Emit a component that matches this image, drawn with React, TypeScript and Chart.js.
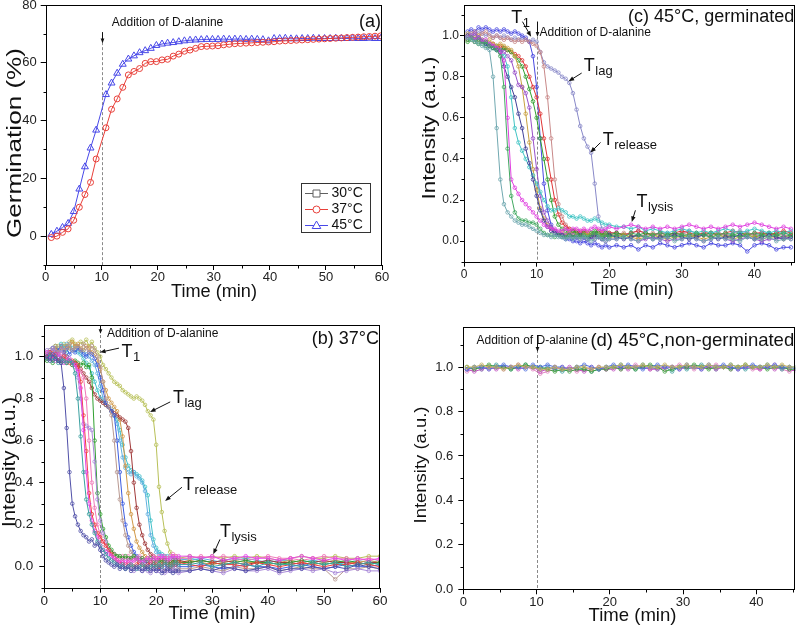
import React, { useEffect, useRef } from "react";
import { Chart, registerables } from "chart.js";

Chart.register(...registerables);

const FONT = "'Liberation Sans', Arial, Helvetica, sans-serif";
const ADD_TIME = 10; // addition of D-alanine (min)

/* ---------------- (a) germination ---------------- */
const TIME_A = [1, 2, 3, 4, 5, 6, 7, 8, 9, 10.75, 11.75, 12.75, 13.75, 14.75, 15.75, 16.75, 17.75, 18.75, 19.75,
  20.75, 21.75, 22.75, 23.75, 24.75, 25.75, 26.75, 27.75, 28.75, 29.75, 30.75, 31.75, 32.75, 33.75, 34.75, 35.75,
  36.75, 37.75, 38.75, 39.75, 40.75, 41.75, 42.75, 43.75, 44.75, 45.75, 46.75, 47.75, 48.75, 49.75, 50.75, 51.75,
  52.75, 53.75, 54.75, 55.75, 56.75, 57.75, 58.75, 59.75];
const GERM_30C: number[] = [];
const GERM_37C = [-0.5, 0.0, 1.3, 2.5, 5.5, 10.0, 14.4, 18.6, 26.7,
  37.5, 43.9, 47.5, 51.5, 55.8, 57.0, 58.0, 59.8, 60.4, 60.4,
  61.0, 61.2, 62.3, 63.0, 64.0, 64.4, 65.0, 65.6, 65.7, 65.8,
  65.9, 66.2, 66.4, 66.6, 66.7, 66.8, 66.9, 67.0, 67.1, 67.2,
  67.3, 67.5, 67.6, 67.7, 67.8, 67.9, 68.0, 68.1, 68.2, 68.3,
  68.4, 68.5, 68.6, 68.7, 68.8, 68.9, 69.0, 69.1, 69.2, 69.3];
const GERM_45C = [0.6, 1.7, 3.0, 4.4, 8.5, 16.3, 24.0, 30.5, 36.7,
  49.0, 53.0, 56.4, 59.5, 61.3, 62.4, 63.5, 64.2, 65.0, 66.0,
  66.5, 66.8, 67.0, 67.3, 67.6, 67.8, 67.9, 68.0, 68.1, 68.1,
  68.1, 68.2, 68.1, 68.2, 68.2, 68.1, 68.2, 68.1, 68.0, 67.6,
  68.4, 68.4, 68.5, 68.3, 68.3, 68.4, 68.4, 68.5, 68.4, 68.4,
  68.4, 68.5, 68.4, 68.4, 68.5, 68.4, 68.4, 68.5, 68.4, 68.4];
const LEGEND_A = ["30°C", "37°C", "45°C"];
const XTICK_A = [0, 10, 20, 30, 40, 50, 60];
const XMINOR_A = [5, 15, 25, 35, 45, 55];
const YTICK_A = [0, 20, 40, 60, 80];
const YMINOR_A = [-10, 10, 30, 50, 70];

/* ---------------- (b) 37°C ---------------- */
const TIME_B = [0.5, 1, 1.5, 2, 2.5, 3, 3.5, 4, 4.5, 5, 5.5, 6, 6.5, 7, 7.5, 8, 8.5, 9, 9.5, 10,
  10.5, 11, 11.5, 12, 12.5, 13, 13.5, 14, 14.5, 15, 15.5, 16, 16.5, 17, 17.5, 18, 18.5, 19, 19.5, 20,
  20.5, 21, 21.5, 22, 22.5, 23, 23.5, 24, 26, 28, 30, 32, 34, 36, 38, 40, 42, 44, 46, 48, 50, 52, 54, 56, 58, 60];
const B_NAVY = [1.00, 0.98, 1.01, 0.99, 0.98, 0.97, 0.85, 0.66, 0.45, 0.30,
  0.24, 0.20, 0.17, 0.15, 0.14, 0.12, 0.13, 0.10, 0.11, 0.08,
  0.05, 0.03, 0.02, 0.01, 0.00, 0.01, -0.01, 0.00, -0.01, 0.00,
  -0.02, -0.01, 0.00, -0.01, -0.02, -0.01, 0.00, -0.02, -0.01, -0.02,
  -0.01, -0.03, -0.02, -0.01, -0.02, -0.03, -0.02, -0.02,
  -0.02, -0.01, -0.02, 0.00, -0.01, -0.02, -0.01, 0.00, -0.02, -0.01, -0.01, 0.00, -0.01, 0.00, -0.01, 0.01, 0.00, -0.01];
const B_TEAL = [0.99, 1.01, 0.98, 1.00, 0.97, 0.99, 0.98, 0.97, 0.98, 0.97,
  0.92, 0.80, 0.62, 0.45, 0.32, 0.25, 0.20, 0.16, 0.12, 0.10,
  0.08, 0.06, 0.04, 0.03, 0.02, 0.01, 0.00, 0.01, -0.01, 0.00,
  0.01, 0.00, -0.01, 0.00, 0.01, 0.00, -0.01, 0.00, 0.01, 0.00,
  0.01, 0.00, 0.02, 0.01, 0.00, 0.01, 0.02, 0.01,
  0.01, 0.02, 0.00, 0.01, 0.02, 0.01, 0.00, 0.02, 0.01, 0.01, 0.00, 0.02, 0.01, 0.02, 0.00, 0.01, 0.02, 0.01];
const B_MAGENTA = [1.02, 0.99, 1.00, 0.98, 1.01, 0.99, 0.97, 0.98, 0.99, 0.97,
  0.96, 0.93, 0.85, 0.65, 0.45, 0.30, 0.22, 0.17, 0.14, 0.10,
  0.08, 0.07, 0.06, 0.05, 0.04, 0.03, 0.02, 0.03, 0.02, 0.03,
  0.02, 0.03, 0.04, 0.03, 0.02, 0.03, 0.04, 0.03, 0.04, 0.03,
  0.04, 0.05, 0.04, 0.03, 0.04, 0.05, 0.04, 0.05,
  0.05, 0.04, 0.05, 0.03, 0.04, 0.05, 0.04, 0.04, 0.03, 0.04, 0.05, 0.04, 0.03, 0.04, 0.03, 0.04, 0.03, 0.04];
const B_RED = [1.00, 1.02, 0.99, 1.01, 0.98, 0.99, 1.00, 0.98, 0.97, 0.98,
  0.97, 0.96, 0.88, 0.72, 0.55, 0.35, 0.25, 0.20, 0.16, 0.14,
  0.12, 0.10, 0.08, 0.06, 0.04, 0.03, 0.02, 0.02, 0.01, 0.02,
  0.01, 0.00, 0.01, 0.02, 0.01, 0.00, 0.01, 0.02, 0.01, 0.01,
  0.00, 0.01, 0.02, 0.01, 0.00, 0.01, 0.01, 0.02,
  0.01, 0.00, 0.02, 0.01, 0.01, 0.00, 0.02, 0.01, 0.00, 0.01, 0.02, 0.01, 0.00, 0.01, 0.01, 0.02, 0.01, 0.00];
const B_LILAC = [1.03, 1.01, 1.04, 1.02, 1.00, 1.03, 1.01, 0.99, 0.98, 0.97,
  0.96, 0.90, 0.80, 0.68, 0.67, 0.66, 0.65, 0.50, 0.32, 0.22,
  0.16, 0.12, 0.08, 0.05, 0.03, 0.02, 0.01, 0.00, -0.01, 0.00,
  -0.01, -0.02, -0.01, 0.00, -0.02, -0.01, -0.02, -0.03, -0.01, -0.02,
  -0.02, -0.01, -0.03, -0.02, -0.02, -0.01, -0.02, -0.03,
  -0.02, -0.01, -0.02, -0.03, -0.01, -0.02, -0.02, -0.01, -0.03, -0.02, -0.01, -0.02, -0.01, -0.03, -0.02, -0.01, -0.02, -0.02];
const B_GREEN = [0.98, 1.00, 0.97, 0.99, 0.98, 0.97, 0.98, 0.97, 0.98, 0.96,
  0.98, 0.97, 0.96, 0.97, 0.95, 0.96, 0.90, 0.60, 0.35, 0.25,
  0.18, 0.14, 0.10, 0.08, 0.06, 0.05, 0.05, 0.04, 0.05, 0.04,
  0.04, 0.05, 0.04, 0.03, 0.04, 0.03, 0.03, 0.04, 0.03, 0.02,
  0.03, 0.02, 0.03, 0.02, 0.01, 0.02, 0.03, 0.02,
  0.02, 0.03, 0.02, 0.01, 0.02, 0.03, 0.02, 0.02, 0.01, 0.02, 0.03, 0.02, 0.01, 0.02, 0.03, 0.02, 0.01, 0.02];
const B_PINK = [1.00, 0.99, 1.02, 1.00, 0.98, 1.01, 0.99, 0.97, 0.98, 0.96,
  0.95, 0.94, 0.93, 0.90, 0.80, 0.60, 0.40, 0.28, 0.20, 0.15,
  0.12, 0.10, 0.08, 0.07, 0.06, 0.05, 0.04, 0.05, 0.04, 0.05,
  0.04, 0.03, 0.04, 0.05, 0.04, 0.03, 0.04, 0.04, 0.05, 0.04,
  0.05, 0.04, 0.05, 0.04, 0.05, 0.06, 0.05, 0.04,
  0.04, 0.05, 0.04, 0.05, 0.04, 0.03, 0.04, 0.05, 0.04, 0.04, 0.03, 0.04, 0.05, 0.04, 0.04, 0.03, 0.04, 0.03];
const B_TAUPE = [1.01, 1.03, 1.00, 1.04, 1.02, 1.05, 1.03, 1.04, 1.06, 1.03,
  1.04, 1.05, 1.03, 1.06, 1.04, 1.02, 1.05, 1.03, 1.00, 0.95,
  0.88, 0.80, 0.76, 0.72, 0.60, 0.45, 0.32, 0.22, 0.15, 0.10,
  0.07, 0.05, 0.03, 0.02, 0.01, 0.00, -0.01, 0.00, -0.01, 0.00,
  -0.01, 0.00, -0.02, -0.01, 0.00, -0.01, -0.02, -0.01,
  -0.01, 0.00, -0.01, -0.02, 0.00, -0.01, -0.01, 0.00, -0.02, -0.01, 0.00, -0.01, -0.01, -0.06, -0.01, -0.01, 0.00, -0.01];
const B_BLUE = [1.00, 1.02, 1.04, 1.01, 1.03, 1.05, 1.02, 1.04, 1.01, 1.03,
  1.02, 1.04, 1.03, 1.01, 1.00, 1.02, 1.01, 0.99, 0.96, 0.90,
  0.84, 0.78, 0.76, 0.74, 0.72, 0.60, 0.45, 0.30, 0.20, 0.14,
  0.10, 0.07, 0.05, 0.04, 0.03, 0.02, 0.02, 0.01, 0.01, 0.00,
  0.01, 0.00, 0.01, 0.00, -0.01, 0.00, 0.01, 0.00,
  0.00, 0.01, 0.00, -0.01, 0.00, 0.01, 0.00, 0.00, -0.01, 0.00, 0.01, 0.00, -0.01, 0.00, 0.01, 0.00, 0.00, 0.01];
const B_BROWN = [0.99, 1.02, 1.00, 1.03, 1.01, 0.99, 1.02, 1.00, 0.98, 0.97,
  0.97, 0.95, 0.94, 0.92, 0.90, 0.88, 0.85, 0.82, 0.80, 0.79,
  0.78, 0.77, 0.76, 0.74, 0.73, 0.72, 0.71, 0.70, 0.69, 0.66,
  0.55, 0.40, 0.28, 0.20, 0.15, 0.11, 0.08, 0.06, 0.05, 0.04,
  0.04, 0.03, 0.04, 0.03, 0.02, 0.03, 0.02, 0.03,
  0.02, 0.03, 0.02, 0.03, 0.02, 0.01, 0.02, 0.03, 0.02, 0.02, 0.01, 0.02, 0.03, 0.02, 0.02, 0.01, 0.02, 0.02];
const B_ORANGE = [1.02, 1.00, 1.03, 1.05, 1.02, 1.04, 1.03, 1.05, 1.04, 1.07,
  1.05, 1.06, 1.04, 1.03, 1.05, 1.04, 1.02, 1.01, 0.98, 0.94,
  0.88, 0.84, 0.80, 0.78, 0.76, 0.74, 0.70, 0.62, 0.48, 0.35,
  0.25, 0.18, 0.12, 0.09, 0.07, 0.05, 0.04, 0.03, 0.03, 0.02,
  0.03, 0.02, 0.03, 0.02, 0.01, 0.02, 0.03, 0.02,
  0.03, 0.02, 0.01, 0.02, 0.03, 0.02, 0.02, 0.01, 0.02, 0.03, 0.02, 0.01, 0.02, 0.03, 0.02, 0.02, 0.03, 0.02];
const B_SKY = [1.00, 1.03, 1.01, 1.04, 1.02, 1.05, 1.03, 1.06, 1.04, 1.03,
  1.05, 1.04, 1.02, 1.03, 1.01, 1.00, 0.98, 0.96, 0.92, 0.86,
  0.80, 0.78, 0.76, 0.75, 0.72, 0.68, 0.60, 0.52, 0.47, 0.45,
  0.44, 0.45, 0.43, 0.42, 0.40, 0.36, 0.25, 0.15, 0.10, 0.07,
  0.06, 0.05, 0.05, 0.04, 0.05, 0.04, 0.03, 0.04,
  0.03, 0.04, 0.03, 0.02, 0.03, 0.04, 0.03, 0.02, 0.03, 0.03, 0.02, 0.03, 0.02, 0.03, 0.02, 0.03, 0.02, 0.03];
const B_CYAN = [1.01, 0.99, 1.02, 1.05, 1.03, 1.06, 1.04, 1.02, 1.05, 1.04,
  1.03, 1.02, 1.01, 0.99, 0.97, 0.95, 0.92, 0.88, 0.84, 0.80,
  0.79, 0.77, 0.76, 0.74, 0.72, 0.70, 0.65, 0.58, 0.52, 0.48,
  0.46, 0.45, 0.44, 0.43, 0.41, 0.38, 0.34, 0.22, 0.13, 0.09,
  0.07, 0.06, 0.05, 0.05, 0.04, 0.05, 0.04, 0.03,
  0.04, 0.03, 0.02, 0.03, 0.04, 0.03, 0.02, 0.03, 0.02, 0.01, 0.02, 0.03, 0.02, 0.01, 0.02, 0.02, 0.01, 0.02];
const B_OLIVE = [1.00, 1.02, 1.04, 1.03, 1.05, 1.04, 1.06, 1.05, 1.07, 1.08,
  1.06, 1.05, 1.07, 1.06, 1.08, 1.05, 1.07, 1.04, 1.02, 1.00,
  0.96, 0.94, 0.92, 0.90, 0.88, 0.87, 0.86, 0.84, 0.83, 0.82,
  0.81, 0.80, 0.81, 0.80, 0.79, 0.77, 0.74, 0.72, 0.70, 0.58,
  0.38, 0.26, 0.17, 0.11, 0.07, 0.05, 0.05, 0.04,
  0.05, 0.04, 0.05, 0.04, 0.05, 0.04, 0.05, 0.04, 0.03, 0.04, 0.05, 0.04, 0.04, 0.05, 0.04, 0.04, 0.05, 0.05];
const TRACES_B = [B_NAVY, B_TEAL, B_MAGENTA, B_RED, B_LILAC, B_GREEN, B_PINK, B_TAUPE, B_BLUE, B_BROWN, B_ORANGE, B_SKY, B_CYAN, B_OLIVE];
const COLORS_B = ["#5050a8", "#3aa0a0", "#e848e8", "#f03c3c", "#a888d8", "#30a030", "#f078b8", "#b89890", "#3c5ce0", "#a03838", "#d09848", "#60b0e0", "#40c0c8", "#b8c058"];
const XTICK_B = [0, 10, 20, 30, 40, 50, 60];
const XMINOR_B = [5, 15, 25, 35, 45, 55];
const YTICK_I = [0, 0.2, 0.4, 0.6, 0.8, 1.0];
const YMINOR_I = [-0.1, 0.1, 0.3, 0.5, 0.7, 0.9, 1.1];

/* ---------------- (c) 45°C germinated ---------------- */
const TIME_C = [0.5, 1, 1.5, 2, 2.5, 3, 3.5, 4, 4.5, 5, 5.5, 6, 6.5, 7, 7.5, 8, 8.5, 9, 9.5, 10,
  10.5, 11, 11.5, 12, 12.5, 13, 13.5, 14, 14.5, 15, 15.5, 16, 16.5, 17, 17.5, 18, 18.5, 19, 19.5, 20,
  21, 22, 23, 24, 25, 26, 27, 28, 29, 30, 31, 32, 33, 34, 35, 36, 37, 38, 39, 40, 41, 42, 43, 44, 45];
const C_SLATE = [1.00, 1.01, 1.00, 1.02, 1.01, 1.00, 1.01, 0.99, 1.00, 0.99,
  1.00, 0.99, 0.98, 0.99, 0.98, 0.99, 0.98, 0.97, 0.98, 0.97,
  0.92, 0.87, 0.85, 0.84, 0.83, 0.82, 0.80, 0.79, 0.77, 0.72,
  0.64, 0.56, 0.50, 0.46, 0.43, 0.28, 0.12, 0.06, 0.05, 0.04,
  0.04, 0.03, 0.04, 0.05, 0.04, 0.03, 0.04, 0.04, 0.03, 0.04, 0.05, 0.04, 0.03, 0.04, 0.04, 0.03, 0.04, 0.05, 0.04, 0.03, 0.04, 0.04, 0.03, 0.04, 0.03];
const C_BLUE = [1.02, 1.03, 1.02, 1.04, 1.03, 1.04, 1.03, 1.02, 1.03, 1.02,
  1.03, 1.02, 1.01, 1.02, 1.01, 1.00, 0.99, 0.97, 0.90, 0.75,
  0.50, 0.28, 0.15, 0.08, 0.05, 0.03, 0.02, 0.01, 0.01, 0.00,
  0.00, -0.01, 0.00, -0.01, -0.02, -0.01, -0.02, -0.03, -0.02, -0.03,
  -0.02, -0.03, -0.02, -0.04, -0.02, -0.03, -0.01, -0.02, -0.03, -0.02, -0.01, -0.02, -0.03, -0.01, -0.02, -0.02, -0.01, -0.02, -0.05, -0.02, -0.01, -0.02, -0.04, -0.03, -0.03];
const C_GRAYTEAL = [0.99, 0.98, 0.97, 0.96, 0.95, 0.94, 0.93, 0.80, 0.55, 0.30,
  0.18, 0.14, 0.12, 0.10, 0.09, 0.08, 0.08, 0.07, 0.06, 0.05,
  0.04, 0.03, 0.03, 0.02, 0.03, 0.02, 0.02, 0.01, 0.02, 0.01,
  0.02, 0.01, 0.02, 0.01, 0.00, 0.01, 0.02, 0.01, 0.00, 0.01,
  0.01, 0.02, 0.01, 0.00, 0.02, 0.01, 0.01, 0.02, 0.00, 0.01, 0.02, 0.01, 0.00, 0.01, 0.02, 0.01, 0.01, 0.00, 0.02, 0.01, 0.01, 0.02, 0.00, 0.01, 0.01];
const C_GREEN = [0.98, 0.99, 0.97, 0.98, 0.96, 0.97, 0.95, 0.94, 0.93, 0.90,
  0.75, 0.45, 0.22, 0.14, 0.11, 0.10, 0.10, 0.09, 0.09, 0.08,
  0.06, 0.04, 0.03, 0.03, 0.02, 0.03, 0.02, 0.02, 0.03, 0.02,
  0.03, 0.02, 0.03, 0.02, 0.03, 0.04, 0.03, 0.02, 0.03, 0.02,
  0.03, 0.02, 0.04, 0.03, 0.02, 0.03, 0.04, 0.03, 0.02, 0.03, 0.03, 0.04, 0.03, 0.02, 0.03, 0.04, 0.03, 0.02, 0.03, 0.04, 0.03, 0.02, 0.03, 0.04, 0.03];
const C_MAGENTA = [0.99, 1.00, 0.98, 0.99, 0.97, 0.98, 0.96, 0.95, 0.94, 0.92,
  0.88, 0.60, 0.30, 0.26, 0.23, 0.20, 0.18, 0.16, 0.14, 0.12,
  0.10, 0.08, 0.07, 0.06, 0.06, 0.05, 0.05, 0.06, 0.05, 0.06,
  0.06, 0.05, 0.06, 0.05, 0.06, 0.07, 0.06, 0.05, 0.06, 0.07,
  0.06, 0.07, 0.08, 0.07, 0.06, 0.07, 0.06, 0.07, 0.06, 0.07, 0.08, 0.07, 0.06, 0.07, 0.06, 0.07, 0.08, 0.07, 0.08, 0.09, 0.08, 0.07, 0.06, 0.07, 0.06];
const C_NAVY = [1.00, 0.99, 0.98, 0.99, 0.97, 0.96, 0.95, 0.94, 0.93, 0.92,
  0.85, 0.80, 0.75, 0.70, 0.62, 0.55, 0.45, 0.38, 0.30, 0.22,
  0.15, 0.10, 0.07, 0.05, 0.04, 0.03, 0.03, 0.02, 0.03, 0.02,
  0.02, 0.03, 0.02, 0.01, 0.02, 0.03, 0.02, 0.01, 0.02, 0.03,
  0.02, 0.01, 0.02, 0.03, 0.02, 0.01, 0.02, 0.02, 0.03, 0.02, 0.01, 0.02, 0.03, 0.02, 0.01, 0.02, 0.02, 0.03, 0.02, 0.01, 0.02, 0.03, 0.02, 0.01, 0.02];
const C_RED = [0.98, 0.99, 0.97, 0.98, 0.97, 0.96, 0.95, 0.96, 0.94, 0.95,
  0.94, 0.93, 0.92, 0.91, 0.90, 0.88, 0.85, 0.80, 0.75, 0.70,
  0.62, 0.50, 0.40, 0.30, 0.20, 0.13, 0.09, 0.07, 0.06, 0.05,
  0.05, 0.04, 0.05, 0.04, 0.03, 0.04, 0.05, 0.04, 0.03, 0.04,
  0.04, 0.03, 0.04, 0.05, 0.04, 0.03, 0.04, 0.03, 0.04, 0.05, 0.04, 0.03, 0.04, 0.04, 0.03, 0.04, 0.05, 0.04, 0.03, 0.04, 0.04, 0.03, 0.04, 0.05, 0.04];
const C_VIOLET = [0.99, 1.00, 1.01, 0.99, 0.98, 0.97, 0.96, 0.95, 0.94, 0.93,
  0.92, 0.90, 0.88, 0.82, 0.76, 0.75, 0.72, 0.65, 0.50, 0.35,
  0.22, 0.14, 0.10, 0.07, 0.05, 0.04, 0.03, 0.03, 0.02, 0.03,
  0.02, 0.01, 0.02, 0.01, 0.02, 0.01, 0.02, 0.01, 0.00, 0.01,
  0.01, 0.02, 0.01, 0.00, 0.01, 0.02, 0.01, 0.00, 0.01, 0.01, 0.02, 0.01, 0.00, 0.01, 0.02, 0.01, 0.00, 0.01, 0.02, 0.01, 0.00, 0.01, 0.01, 0.02, 0.01];
const C_GREEN2 = [0.97, 0.98, 0.97, 0.96, 0.97, 0.95, 0.96, 0.94, 0.95, 0.93,
  0.94, 0.93, 0.92, 0.90, 0.88, 0.85, 0.80, 0.74, 0.68, 0.60,
  0.50, 0.40, 0.30, 0.20, 0.12, 0.08, 0.06, 0.05, 0.04, 0.05,
  0.04, 0.03, 0.04, 0.03, 0.04, 0.05, 0.04, 0.03, 0.04, 0.03,
  0.04, 0.03, 0.02, 0.03, 0.04, 0.03, 0.02, 0.03, 0.04, 0.03, 0.02, 0.03, 0.03, 0.04, 0.03, 0.02, 0.03, 0.04, 0.03, 0.02, 0.03, 0.04, 0.03, 0.02, 0.03];
const C_OCHRE = [1.01, 1.00, 0.99, 1.00, 0.98, 0.97, 0.98, 0.96, 0.95, 0.96,
  0.95, 0.94, 0.93, 0.90, 0.85, 0.75, 0.62, 0.48, 0.35, 0.25,
  0.16, 0.11, 0.08, 0.06, 0.05, 0.04, 0.04, 0.03, 0.04, 0.03,
  0.03, 0.02, 0.03, 0.04, 0.03, 0.02, 0.03, 0.02, 0.03, 0.02,
  0.02, 0.03, 0.02, 0.01, 0.02, 0.03, 0.02, 0.01, 0.02, 0.02, 0.03, 0.02, 0.01, 0.02, 0.03, 0.02, 0.01, 0.02, 0.03, 0.02, 0.01, 0.02, 0.02, 0.01, 0.02];
const C_CYAN = [0.99, 1.00, 0.98, 0.99, 0.97, 0.96, 0.95, 0.94, 0.93, 0.92,
  0.90, 0.85, 0.70, 0.55, 0.48, 0.44, 0.40, 0.36, 0.32, 0.28,
  0.24, 0.20, 0.17, 0.15, 0.15, 0.16, 0.15, 0.14, 0.12, 0.12,
  0.11, 0.12, 0.11, 0.10, 0.10, 0.11, 0.10, 0.09, 0.08, 0.08,
  0.07, 0.07, 0.06, 0.07, 0.05, 0.06, 0.05, 0.04, 0.05, 0.06, 0.05, 0.04, 0.05, 0.04, 0.05, 0.06, 0.05, 0.04, 0.05, 0.06, 0.05, 0.04, 0.05, 0.04, 0.05];
const C_ROSE = [1.00, 1.01, 1.02, 1.00, 1.01, 1.02, 1.00, 0.99, 1.00, 0.99,
  0.98, 0.99, 0.98, 0.97, 0.98, 0.97, 0.98, 0.97, 0.96, 0.95,
  0.92, 0.85, 0.70, 0.50, 0.30, 0.18, 0.12, 0.08, 0.06, 0.05,
  0.04, 0.05, 0.04, 0.03, 0.04, 0.03, 0.02, 0.03, 0.04, 0.03,
  0.03, 0.04, 0.03, 0.02, 0.03, 0.04, 0.03, 0.02, 0.03, 0.04, 0.03, 0.02, 0.03, 0.03, 0.04, 0.03, 0.02, 0.03, 0.04, 0.03, 0.02, 0.03, 0.04, 0.03, 0.02];
const TRACES_C = [C_GRAYTEAL, C_GREEN, C_MAGENTA, C_NAVY, C_CYAN, C_VIOLET, C_OCHRE, C_GREEN2, C_RED, C_ROSE, C_BLUE, C_SLATE];
const COLORS_C = ["#70a8b0", "#40a860", "#e040e0", "#404098", "#40c4c4", "#9850c8", "#c8a040", "#30a030", "#e03434", "#c88888", "#4848e0", "#8888c8"];
const XTICK_C = [0, 10, 20, 30, 40];
const XMINOR_C = [5, 15, 25, 35, 45];

/* ---------------- (d) 45°C non-germinated ---------------- */
const TIME_D = [0.5, 1.5, 2.5, 3.5, 4.5, 5.5, 6.5, 7.5, 8.5, 9.5, 10.5, 11.5, 12.5, 13.5, 14.5, 15.5, 16.5, 17.5, 18.5, 19.5,
  20.5, 21.5, 22.5, 23.5, 24.5, 25.5, 26.5, 27.5, 28.5, 29.5, 30.5, 31.5, 32.5, 33.5, 34.5, 35.5, 36.5, 37.5, 38.5, 39.5,
  40.5, 41.5, 42.5, 43.5, 44.5, 45.5];
const D_TEAL = [0.99, 1.00, 0.99, 1.00, 1.01, 1.00, 0.99, 1.00, 1.01, 1.00,
  0.99, 1.00, 0.99, 0.98, 0.99, 1.00, 0.99, 0.98, 0.99, 1.00,
  1.00, 1.01, 1.00, 0.99, 1.01, 1.00, 0.99, 1.00, 0.98, 1.00,
  0.99, 1.00, 1.01, 1.00, 0.99, 1.00, 1.01, 1.00, 0.99, 1.00,
  1.00, 1.01, 1.00, 0.99, 1.00, 1.00];
const D_PINK = [0.98, 0.99, 1.00, 0.99, 1.00, 0.99, 1.00, 1.01, 1.00, 0.99,
  0.97, 0.98, 0.99, 1.00, 0.99, 0.98, 0.99, 1.00, 0.99, 0.99,
  1.00, 0.99, 1.00, 1.01, 1.00, 0.99, 1.00, 0.99, 1.00, 1.01,
  1.00, 0.99, 1.00, 1.00, 1.01, 1.00, 0.99, 1.00, 1.00, 0.99,
  0.99, 1.00, 1.01, 0.99, 0.98, 0.99];
const D_GREEN = [1.00, 0.99, 1.00, 1.01, 1.00, 1.00, 0.99, 1.00, 1.01, 1.00,
  1.00, 0.99, 0.98, 0.99, 0.98, 0.99, 0.99, 0.98, 0.99, 0.99,
  1.00, 0.99, 1.00, 0.99, 1.00, 1.01, 1.00, 0.98, 0.99, 1.00,
  1.00, 1.01, 1.00, 0.99, 1.00, 1.00, 0.99, 1.00, 1.01, 1.00,
  1.00, 0.99, 1.00, 1.00, 0.99, 0.99];
const D_BLUE = [0.99, 1.00, 1.00, 0.99, 1.00, 1.01, 1.00, 1.00, 0.99, 1.01,
  1.00, 1.01, 1.00, 1.00, 0.99, 1.00, 1.01, 1.00, 0.99, 1.00,
  1.01, 1.00, 1.01, 1.00, 0.99, 1.00, 1.01, 1.00, 1.00, 0.99,
  1.01, 1.00, 0.99, 1.01, 1.00, 1.01, 1.00, 0.99, 1.00, 1.01,
  1.00, 1.00, 1.01, 1.00, 1.00, 0.99];
const D_MAGENTA = [0.99, 0.98, 0.99, 1.00, 0.99, 1.00, 1.00, 0.99, 1.00, 1.00,
  0.98, 0.99, 1.00, 0.99, 1.00, 0.99, 0.98, 0.99, 1.00, 0.99,
  0.99, 1.00, 0.99, 1.00, 1.00, 0.99, 0.99, 1.00, 1.00, 0.99,
  1.00, 1.00, 0.99, 1.00, 0.99, 1.00, 1.00, 0.99, 1.00, 1.00,
  0.99, 1.00, 0.99, 1.00, 0.99, 0.98];
const D_OLIVE = [1.00, 1.00, 1.01, 1.00, 1.00, 0.99, 1.00, 1.01, 1.00, 1.00,
  0.99, 0.99, 1.00, 0.99, 0.99, 1.00, 1.00, 0.99, 1.00, 1.00,
  1.00, 1.01, 1.00, 1.00, 1.01, 1.00, 1.00, 1.01, 1.00, 1.00,
  1.01, 1.00, 1.00, 1.01, 1.00, 1.00, 1.01, 1.00, 1.01, 1.00,
  1.00, 1.01, 1.00, 1.01, 1.00, 1.00];
const TRACES_D = [D_OLIVE, D_BLUE, D_GREEN, D_MAGENTA, D_TEAL, D_PINK];
const COLORS_D = ["#c0b060", "#5070e0", "#40a040", "#c050c0", "#40a0a0", "#e080c0"];
const XTICK_D = [0, 10, 20, 30, 40];
const XMINOR_D = [5, 15, 25, 35, 45];
const YMINOR_D = [0.1, 0.3, 0.5, 0.7, 0.9, 1.1];

/* ---------------- helpers ---------------- */
function traceSets(times: number[], traces: number[][], colors: string[]) {
  return traces.map((vals, i) => ({
    data: times.map((t, j) => ({ x: t, y: vals[j] })),
    borderColor: colors[i],
    backgroundColor: "rgba(0,0,0,0)",
    borderWidth: 1,
    pointStyle: "circle",
    pointRadius: 1.8,
    pointBorderWidth: 0.8,
    pointBorderColor: colors[i],
    pointBackgroundColor: "rgba(0,0,0,0)",
    tension: 0,
    fill: false,
  }));
}

function drawArrow(ctx: CanvasRenderingContext2D, x1: number, y1: number, x2: number, y2: number, head = 6) {
  const ang = Math.atan2(y2 - y1, x2 - x1);
  ctx.save();
  ctx.setLineDash([]);
  ctx.strokeStyle = "#111";
  ctx.fillStyle = "#111";
  ctx.lineWidth = 1;
  ctx.beginPath();
  ctx.moveTo(x1, y1);
  ctx.lineTo(x2 - Math.cos(ang) * head * 0.7, y2 - Math.sin(ang) * head * 0.7);
  ctx.stroke();
  ctx.beginPath();
  ctx.moveTo(x2, y2);
  ctx.lineTo(x2 - head * Math.cos(ang - 0.38), y2 - head * Math.sin(ang - 0.38));
  ctx.lineTo(x2 - head * Math.cos(ang + 0.38), y2 - head * Math.sin(ang + 0.38));
  ctx.closePath();
  ctx.fill();
  ctx.restore();
}

function drawText(ctx: CanvasRenderingContext2D, text: string, x: number, y: number, size: number,
  align: CanvasTextAlign = "left", rot = 0, len = 0) {
  ctx.save();
  ctx.fillStyle = "#111";
  ctx.font = `${size}px ${FONT}`;
  ctx.textAlign = align;
  ctx.textBaseline = "middle";
  ctx.translate(x, y);
  if (rot) ctx.rotate(rot);
  if (len) {
    const w = ctx.measureText(text).width;
    if (w > 0) ctx.scale(len / w, 1);
  }
  ctx.fillText(text, 0, 0);
  ctx.restore();
}

function drawTLabel(ctx: CanvasRenderingContext2D, x: number, yc: number, sub: string) {
  ctx.save();
  ctx.fillStyle = "#111";
  ctx.textAlign = "left";
  ctx.textBaseline = "alphabetic";
  ctx.font = `18px ${FONT}`;
  const base = yc + 6.5;
  ctx.fillText("T", x, base);
  const w = ctx.measureText("T").width;
  ctx.font = `13px ${FONT}`;
  ctx.fillText(sub, x + w + 0.5, base + 4);
  ctx.restore();
}

type TLab = { sub: string; tx: number; ty: number; a: [number, number, number, number] };
type Title = { text: string; x: number; y: number; size: number; len: number };

interface PanelSpec {
  left: number; top: number; w: number; h: number;
  area: { l: number; t: number; r: number; b: number };
  xMin: number; xMax: number; xTicks: number[]; xMinor: number[]; xTickLen: number; xPad: number;
  yMin: number; yMax: number; yTicks: number[]; yMinor: number[]; yTickLen: number; yPad: number;
  yFmt: (v: number) => string;
  tickSize: number;
  datasets: any[];
  xTitle: Title;
  yTitle: Title;
  addition: { tail: number; tip: number; tx: number; ty: number };
  tag: { text: string; dy: number; size: number };
  tLabels: TLab[];
  extra?: (ctx: CanvasRenderingContext2D, chart: any) => void;
}

function buildChart(canvas: HTMLCanvasElement, s: PanelSpec) {
  const deco = {
    id: "deco",
    beforeDatasetsDraw(chart: any) {
      const ctx = chart.ctx as CanvasRenderingContext2D;
      const a = chart.chartArea;
      const xs = chart.scales.x, ys = chart.scales.y;
      const x = Math.round(xs.getPixelForValue(ADD_TIME)) + 0.5;
      ctx.save();
      ctx.strokeStyle = "#8a8a8a";
      ctx.lineWidth = 1;
      ctx.setLineDash([3, 2]);
      ctx.beginPath();
      ctx.moveTo(x, ys.getPixelForValue(s.addition.tail));
      ctx.lineTo(x, a.bottom);
      ctx.stroke();
      ctx.restore();
    },
    afterDraw(chart: any) {
      const ctx = chart.ctx as CanvasRenderingContext2D;
      const a = chart.chartArea;
      const xs = chart.scales.x, ys = chart.scales.y;
      const X = (v: number) => xs.getPixelForValue(v);
      const Y = (v: number) => ys.getPixelForValue(v);
      // frame
      ctx.save();
      ctx.strokeStyle = "#000";
      ctx.lineWidth = 1;
      ctx.setLineDash([]);
      const L = Math.round(a.left) + 0.5, T = Math.round(a.top) + 0.5;
      const R = Math.round(a.right) - 0.5, B = Math.round(a.bottom) + 0.5;
      ctx.strokeRect(L, T, R - L, B - T);
      // minor ticks
      ctx.beginPath();
      s.xMinor.forEach((v) => {
        if (v < s.xMin || v > s.xMax) return;
        const px = Math.round(X(v)) + 0.5;
        ctx.moveTo(px, B);
        ctx.lineTo(px, B + 3);
      });
      s.yMinor.forEach((v) => {
        if (v < s.yMin || v > s.yMax) return;
        const py = Math.round(Y(v)) + 0.5;
        ctx.moveTo(L - 3, py);
        ctx.lineTo(L, py);
      });
      ctx.stroke();
      ctx.restore();
      // titles
      drawText(ctx, s.xTitle.text, s.xTitle.x, s.xTitle.y, s.xTitle.size, "center", 0, s.xTitle.len);
      drawText(ctx, s.yTitle.text, s.yTitle.x, s.yTitle.y, s.yTitle.size, "center", -Math.PI / 2, s.yTitle.len);
      // addition of D-alanine
      const ax = Math.round(X(ADD_TIME)) + 0.5;
      drawArrow(ctx, ax, Y(s.addition.tail), ax, Y(s.addition.tip), 5);
      drawText(ctx, "Addition of D-alanine", X(s.addition.tx), Y(s.addition.ty), 12, "left");
      // panel tag
      drawText(ctx, s.tag.text, a.right - 1, a.top + s.tag.dy, s.tag.size, "right");
      // T labels
      s.tLabels.forEach((t) => {
        drawArrow(ctx, X(t.a[0]), Y(t.a[1]), X(t.a[2]), Y(t.a[3]), 6);
        drawTLabel(ctx, X(t.tx), Y(t.ty), t.sub);
      });
      if (s.extra) s.extra(ctx, chart);
    },
  };

  const tickFont = { family: FONT, size: s.tickSize };
  return new Chart(canvas, {
    type: "line",
    data: { datasets: s.datasets },
    options: {
      animation: false,
      responsive: false,
      maintainAspectRatio: false,
      events: [],
      layout: { padding: { left: 0, top: s.area.t, right: s.w - s.area.r, bottom: 0 } },
      plugins: { legend: { display: false }, tooltip: { enabled: false } },
      scales: {
        x: {
          type: "linear",
          min: s.xMin,
          max: s.xMax,
          afterBuildTicks: (sc: any) => { sc.ticks = s.xTicks.map((v) => ({ value: v })); },
          afterFit: (sc: any) => { sc.height = s.h - s.area.b; sc.paddingLeft = 0; sc.paddingRight = 0; },
          ticks: { autoSkip: false, maxRotation: 0, font: tickFont, color: "#222", padding: s.xPad, callback: (v: any) => String(v) },
          grid: { drawOnChartArea: false, drawTicks: true, tickLength: s.xTickLen, color: "#000", lineWidth: 1 },
          border: { display: false },
        },
        y: {
          type: "linear",
          min: s.yMin,
          max: s.yMax,
          afterBuildTicks: (sc: any) => { sc.ticks = s.yTicks.map((v) => ({ value: v })); },
          afterFit: (sc: any) => { sc.width = s.area.l; sc.paddingTop = 0; sc.paddingBottom = 0; },
          ticks: { autoSkip: false, font: tickFont, color: "#222", padding: s.yPad, callback: (v: any) => s.yFmt(Number(v)) },
          grid: { drawOnChartArea: false, drawTicks: true, tickLength: s.yTickLen, color: "#000", lineWidth: 1 },
          border: { display: false },
        },
      },
    } as any,
    plugins: [deco as any],
  });
}

/* ---------------- panel specs ---------------- */
const LEGEND_COLORS = ["#606060", "#e8403a", "#4848e8"];

const SPEC_A: PanelSpec = {
  left: 0, top: 0, w: 400, h: 310,
  area: { l: 45.7, t: 5, r: 382, b: 265 },
  xMin: 0, xMax: 60, xTicks: XTICK_A, xMinor: XMINOR_A, xTickLen: 5, xPad: 0,
  yMin: -10, yMax: 80, yTicks: YTICK_A, yMinor: YMINOR_A, yTickLen: 5, yPad: 4,
  yFmt: (v) => String(v),
  tickSize: 13,
  datasets: [
    { label: LEGEND_A[0], data: GERM_30C.map((v, i) => ({ x: TIME_A[i], y: v })), borderColor: LEGEND_COLORS[0], borderWidth: 1, pointStyle: "rect", pointRadius: 3, pointBorderColor: LEGEND_COLORS[0], pointBackgroundColor: "rgba(0,0,0,0)", fill: false },
    { label: LEGEND_A[1], data: TIME_A.map((t, i) => ({ x: t, y: GERM_37C[i] })), borderColor: LEGEND_COLORS[1], borderWidth: 1, pointStyle: "circle", pointRadius: 3, pointBorderWidth: 1, pointBorderColor: LEGEND_COLORS[1], pointBackgroundColor: "rgba(0,0,0,0)", fill: false },
    { label: LEGEND_A[2], data: TIME_A.map((t, i) => ({ x: t, y: GERM_45C[i] })), borderColor: LEGEND_COLORS[2], borderWidth: 1, pointStyle: "triangle", pointRadius: 4, pointBorderWidth: 1, pointBorderColor: LEGEND_COLORS[2], pointBackgroundColor: "rgba(0,0,0,0)", fill: false },
  ],
  xTitle: { text: "Time (min)", x: 214, y: 292, size: 18, len: 86 },
  yTitle: { text: "Germination (%)", x: 15, y: 143, size: 21, len: 190 },
  addition: { tail: 70.6, tip: 66.8, tx: 11.8, ty: 73.9 },
  tag: { text: "(a)", dy: 17, size: 18 },
  tLabels: [],
  extra: (ctx) => {
    ctx.save();
    ctx.strokeStyle = "#333";
    ctx.lineWidth = 1;
    ctx.strokeRect(301.5, 183.5, 69, 49);
    const rows = [193.5, 209.5, 225.5];
    LEGEND_A.forEach((lab, i) => {
      const y = rows[i];
      ctx.strokeStyle = LEGEND_COLORS[i];
      ctx.beginPath();
      ctx.moveTo(305, y);
      ctx.lineTo(328, y);
      ctx.stroke();
      ctx.fillStyle = "#fff";
      ctx.beginPath();
      if (i === 0) ctx.rect(313, y - 3.5, 7, 7);
      else if (i === 1) ctx.arc(316.5, y, 3.5, 0, Math.PI * 2);
      else { ctx.moveTo(316.5, y - 4.5); ctx.lineTo(320.8, y + 3); ctx.lineTo(312.2, y + 3); ctx.closePath(); }
      ctx.fill();
      ctx.stroke();
      drawText(ctx, lab, 331.5, y, 14, "left");
    });
    ctx.restore();
  },
};

const SPEC_B: PanelSpec = {
  left: 0, top: 310, w: 400, h: 317,
  area: { l: 44.3, t: 15, r: 380, b: 277.7 },
  xMin: 0, xMax: 60, xTicks: XTICK_B, xMinor: XMINOR_B, xTickLen: 5, xPad: 0,
  yMin: -0.1, yMax: 1.15, yTicks: YTICK_I, yMinor: YMINOR_I, yTickLen: 5, yPad: 6,
  yFmt: (v) => v.toFixed(1),
  tickSize: 13.5,
  datasets: traceSets(TIME_B, TRACES_B, COLORS_B),
  xTitle: { text: "Time (min)", x: 212, y: 304, size: 18, len: 87 },
  yTitle: { text: "Intensity (a.u.)", x: 10, y: 152, size: 19, len: 130 },
  addition: { tail: 1.15, tip: 1.108, tx: 11.2, ty: 1.108 },
  tag: { text: "(b) 37°C", dy: 14, size: 18 },
  tLabels: [
    { sub: "1", tx: 13.8, ty: 1.027, a: [13.35, 1.04, 9.95, 1.02] },
    { sub: "lag", tx: 23.0, ty: 0.808, a: [22.5, 0.784, 18.9, 0.736] },
    { sub: "release", tx: 24.8, ty: 0.397, a: [24.6, 0.378, 21.6, 0.313] },
    { sub: "lysis", tx: 31.4, ty: 0.17, a: [31.4, 0.13, 30.2, 0.059] },
  ],
};

const SPEC_C: PanelSpec = {
  left: 400, top: 0, w: 400, h: 310,
  area: { l: 64, t: 3, r: 398, b: 261.7 },
  xMin: 0, xMax: 45.6, xTicks: XTICK_C, xMinor: XMINOR_C, xTickLen: 5, xPad: 1,
  yMin: -0.1, yMax: 1.15, yTicks: YTICK_I, yMinor: YMINOR_I, yTickLen: 4, yPad: 1,
  yFmt: (v) => v.toFixed(1),
  tickSize: 12,
  datasets: traceSets(TIME_C, TRACES_C, COLORS_C),
  xTitle: { text: "Time (min)", x: 232, y: 290, size: 17.5, len: 83 },
  yTitle: { text: "Intensity (a.u.)", x: 30, y: 128, size: 19, len: 143 },
  addition: { tail: 1.068, tip: 0.995, tx: 10.4, ty: 1.014 },
  tag: { text: "(c) 45°C, germinated", dy: 12, size: 18 },
  tLabels: [
    { sub: "1", tx: 6.5, ty: 1.092, a: [8.05, 1.068, 9.24, 0.995] },
    { sub: "lag", tx: 16.5, ty: 0.86, a: [16.2, 0.818, 14.4, 0.778] },
    { sub: "release", tx: 19.1, ty: 0.498, a: [18.8, 0.48, 17.4, 0.431] },
    { sub: "lysis", tx: 23.75, ty: 0.198, a: [23.6, 0.15, 23.1, 0.093] },
  ],
};

const SPEC_D: PanelSpec = {
  left: 400, top: 310, w: 400, h: 317,
  area: { l: 63.3, t: 17, r: 398, b: 279.3 },
  xMin: 0, xMax: 45.3, xTicks: XTICK_D, xMinor: XMINOR_D, xTickLen: 5, xPad: 0,
  yMin: 0, yMax: 1.18, yTicks: YTICK_I, yMinor: YMINOR_D, yTickLen: 5, yPad: 5,
  yFmt: (v) => v.toFixed(1),
  tickSize: 13,
  datasets: traceSets(TIME_D, TRACES_D, COLORS_D),
  xTitle: { text: "Time (min)", x: 232.5, y: 306, size: 18.5, len: 88 },
  yTitle: { text: "Intensity (a.u.)", x: 21, y: 155, size: 17, len: 117 },
  addition: { tail: 1.144, tip: 1.069, tx: 1.8, ty: 1.118 },
  tag: { text: "(d) 45°C,non-germinated", dy: 13.7, size: 18.5 },
  tLabels: [],
};

function Panel({ spec }: { spec: PanelSpec }) {
  const ref = useRef<HTMLCanvasElement>(null);
  useEffect(() => {
    if (!ref.current) return;
    const chart = buildChart(ref.current, spec);
    return () => chart.destroy();
  }, [spec]);
  return (
    <canvas
      ref={ref}
      width={spec.w}
      height={spec.h}
      style={{ position: "absolute", left: spec.left, top: spec.top, width: spec.w, height: spec.h }}
    />
  );
}

export default function App() {
  return (
    <div style={{ position: "absolute", left: 0, top: 0, width: 800, height: 627, background: "#fff", overflow: "hidden" }}>
      <Panel spec={SPEC_A} />
      <Panel spec={SPEC_B} />
      <Panel spec={SPEC_C} />
      <Panel spec={SPEC_D} />
    </div>
  );
}
